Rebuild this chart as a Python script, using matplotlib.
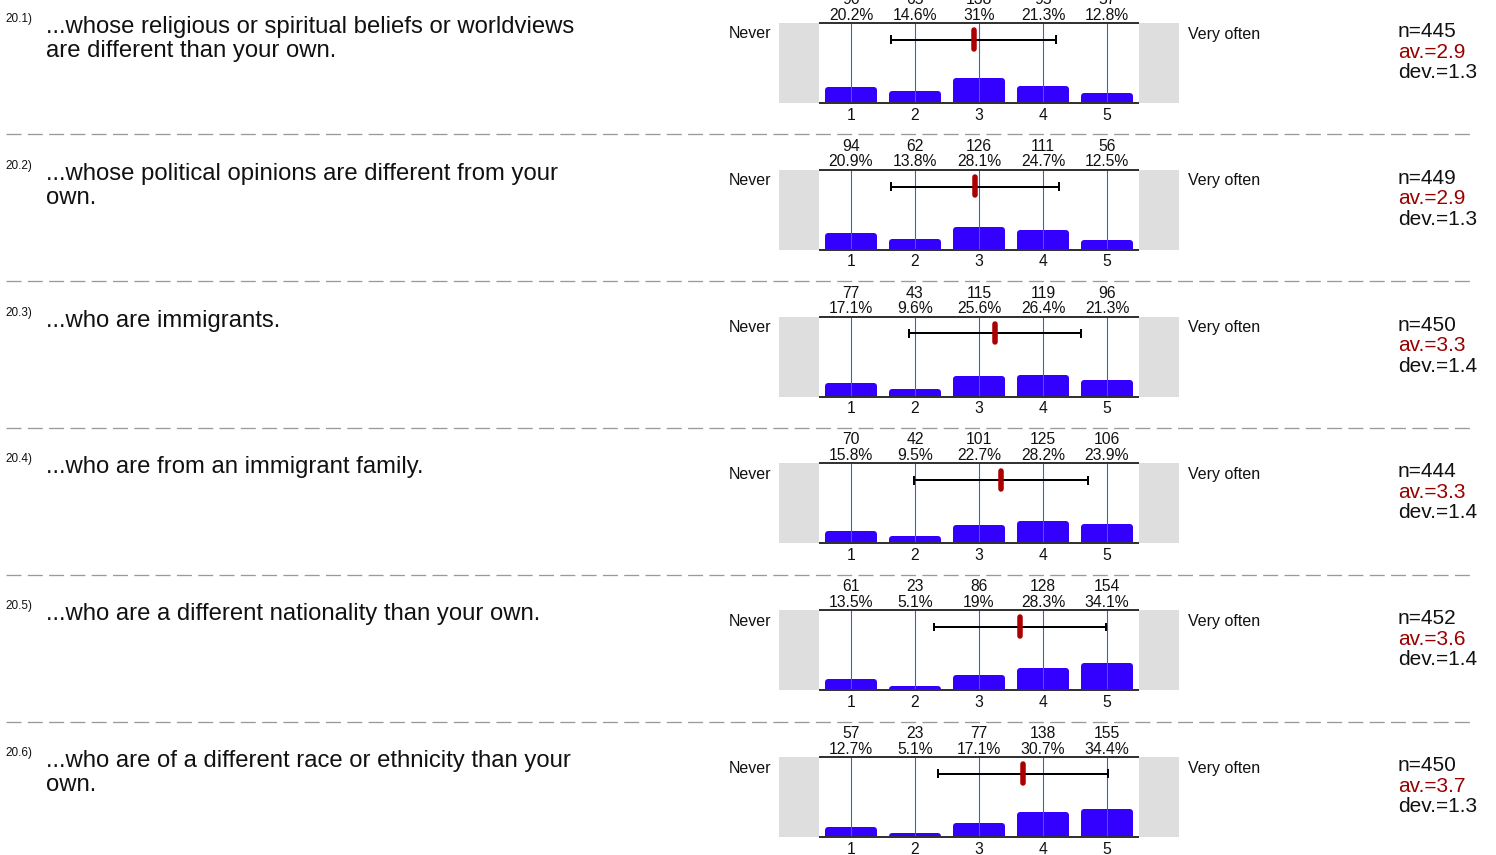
import matplotlib
matplotlib.use("Agg")
import matplotlib.pyplot as plt

plt.rcParams['font.family'] = ['Liberation Sans', 'DejaVu Sans']
plt.rcParams['lines.scale_dashes'] = False

# ---------------- data ----------------
item_numbers = ["20.1)", "20.2)", "20.3)", "20.4)", "20.5)", "20.6)"]
item_texts = [
    "...whose religious or spiritual beliefs or worldviews\nare different than your own.",
    "...whose political opinions are different from your\nown.",
    "...who are immigrants.",
    "...who are from an immigrant family.",
    "...who are a different nationality than your own.",
    "...who are of a different race or ethnicity than your\nown.",
]
scale_values = [1, 2, 3, 4, 5]
scale_left = "Never"
scale_right = "Very often"

counts_1 = [90, 65, 138, 95, 57]
counts_2 = [94, 62, 126, 111, 56]
counts_3 = [77, 43, 115, 119, 96]
counts_4 = [70, 42, 101, 125, 106]
counts_5 = [61, 23, 86, 128, 154]
counts_6 = [57, 23, 77, 138, 155]

pct_1 = [20.2, 14.6, 31.0, 21.3, 12.8]
pct_2 = [20.9, 13.8, 28.1, 24.7, 12.5]
pct_3 = [17.1, 9.6, 25.6, 26.4, 21.3]
pct_4 = [15.8, 9.5, 22.7, 28.2, 23.9]
pct_5 = [13.5, 5.1, 19.0, 28.3, 34.1]
pct_6 = [12.7, 5.1, 17.1, 30.7, 34.4]

n_values = [445, 449, 450, 444, 452, 450]
means = [2.92, 2.94, 3.25, 3.35, 3.64, 3.69]
devs = [1.29, 1.31, 1.35, 1.36, 1.35, 1.33]
mean_labels = ["2.9", "2.9", "3.3", "3.3", "3.6", "3.7"]
dev_labels = ["1.3", "1.3", "1.4", "1.4", "1.4", "1.3"]

counts_all = [counts_1, counts_2, counts_3, counts_4, counts_5, counts_6]
pct_all = [pct_1, pct_2, pct_3, pct_4, pct_5, pct_6]

# ---------------- layout (pixels) ----------------
W, H = 1496, 855
DPI = 100
PT = 72.0 / DPI  # points per pixel

fig = plt.figure(figsize=(W / DPI, H / DPI), dpi=DPI)
bg = fig.add_axes([0, 0, 1, 1])
bg.set_xlim(0, W)
bg.set_ylim(H, 0)
bg.axis('off')

ROW_TOP0 = 23.0
ROW_STEP = 146.8
CH = 80.0           # chart height px
AX_L, AX_R = 779.0, 1179.0
TICK1_X = 851.0
UNIT = 64.0         # px per scale unit

def px2x(px):
    return 1 + (px - TICK1_X) / UNIT

xl, xr = px2x(AX_L), px2x(AX_R)
cl, cr = px2x(818.5), px2x(1139)

bar_color = '#3300ff'
vline_color = '#2c6db2'
red = '#aa0000'
fs_small = 11.3

for i in range(6):
    T = ROW_TOP0 + ROW_STEP * i
    B = T + CH
    ax = fig.add_axes([AX_L / W, 1 - B / H, (AX_R - AX_L) / W, CH / H])
    ax.set_xlim(xl, xr)
    ax.set_ylim(0, 1)
    ax.axis('off')
    ax.patch.set_visible(False)

    # gray side boxes
    ax.axvspan(xl, cl, color='#dedede', lw=0, zorder=0)
    ax.axvspan(cr, xr, color='#dedede', lw=0, zorder=0)

    # bars with rounded top corners
    r_px = 3.0
    fr = [p / 100.0 for p in pct_all[i]]
    ax.bar(scale_values, [max(f - r_px / CH, 0.002) for f in fr],
           width=(52 - 2 * r_px) / UNIT, bottom=0, color=bar_color,
           edgecolor=bar_color, linewidth=2 * r_px * PT, joinstyle='round',
           zorder=1)

    # vertical guide lines
    ax.vlines(scale_values, 0, 1, colors=vline_color, linewidth=1.1 * PT, zorder=2)

    # top / bottom lines
    ax.hlines([0, 1], cl, cr, colors='#333333', linewidth=2.0 * PT, zorder=5, clip_on=False)

    # error bar (mean +/- dev)
    ey = 0.79
    lo, hi = means[i] - devs[i], means[i] + devs[i]
    ax.plot([lo, hi], [ey, ey], color='black', lw=2.0 * PT, zorder=3, solid_capstyle='butt')
    ax.vlines([lo, hi], ey - 0.056, ey + 0.056, colors='black', lw=2.0 * PT, zorder=3)
    # mean marker
    ax.plot([means[i], means[i]], [0.68, 0.91], color=red, lw=5.5 * PT,
            solid_capstyle='round', zorder=4)

    # counts & percentages above, ticks below
    for v, c, p in zip(scale_values, counts_all[i], pct_all[i]):
        xpx = TICK1_X + (v - 1) * UNIT
        bg.text(xpx, T - 19, f"{c}", ha='center', va='baseline', fontsize=fs_small, color='#111111')
        bg.text(xpx, T - 3.5, f"{p:g}%", ha='center', va='baseline', fontsize=fs_small, color='#111111')
        bg.text(xpx, B + 16.5, f"{v}", ha='center', va='baseline', fontsize=fs_small, color='#111111')

    # scale end labels
    bg.text(771, T + 11, scale_left, ha='right', va='center', fontsize=11.5, color='#111111')
    bg.text(1188, T + 11, scale_right, ha='left', va='center', fontsize=11.5, color='#111111')

    # item number and text
    bg.text(5, T - 1, item_numbers[i], ha='left', va='baseline', fontsize=8.5, color='#111111')
    for k, line in enumerate(item_texts[i].split("\n")):
        bg.text(46, T + 10 + 24 * k, line, ha='left', va='baseline', fontsize=17.2, color='#111111')

    # stats
    bg.text(1398, T + 14, f"n={n_values[i]}", ha='left', va='baseline', fontsize=15, color='#111111')
    bg.text(1398, T + 34.5, f"av.={mean_labels[i]}", ha='left', va='baseline', fontsize=15, color='#990000')
    bg.text(1398, T + 55, f"dev.={dev_labels[i]}", ha='left', va='baseline', fontsize=15, color='#111111')

    # dashed separator
    if i > 0:
        bg.plot([6, 1472], [T - 35.5, T - 35.5], color='#9a9a9a', lw=1.3 * PT,
                dashes=(15 * PT, 6.3 * PT), solid_capstyle='butt', dash_capstyle='butt')

fig.savefig("out.png", dpi=DPI)
